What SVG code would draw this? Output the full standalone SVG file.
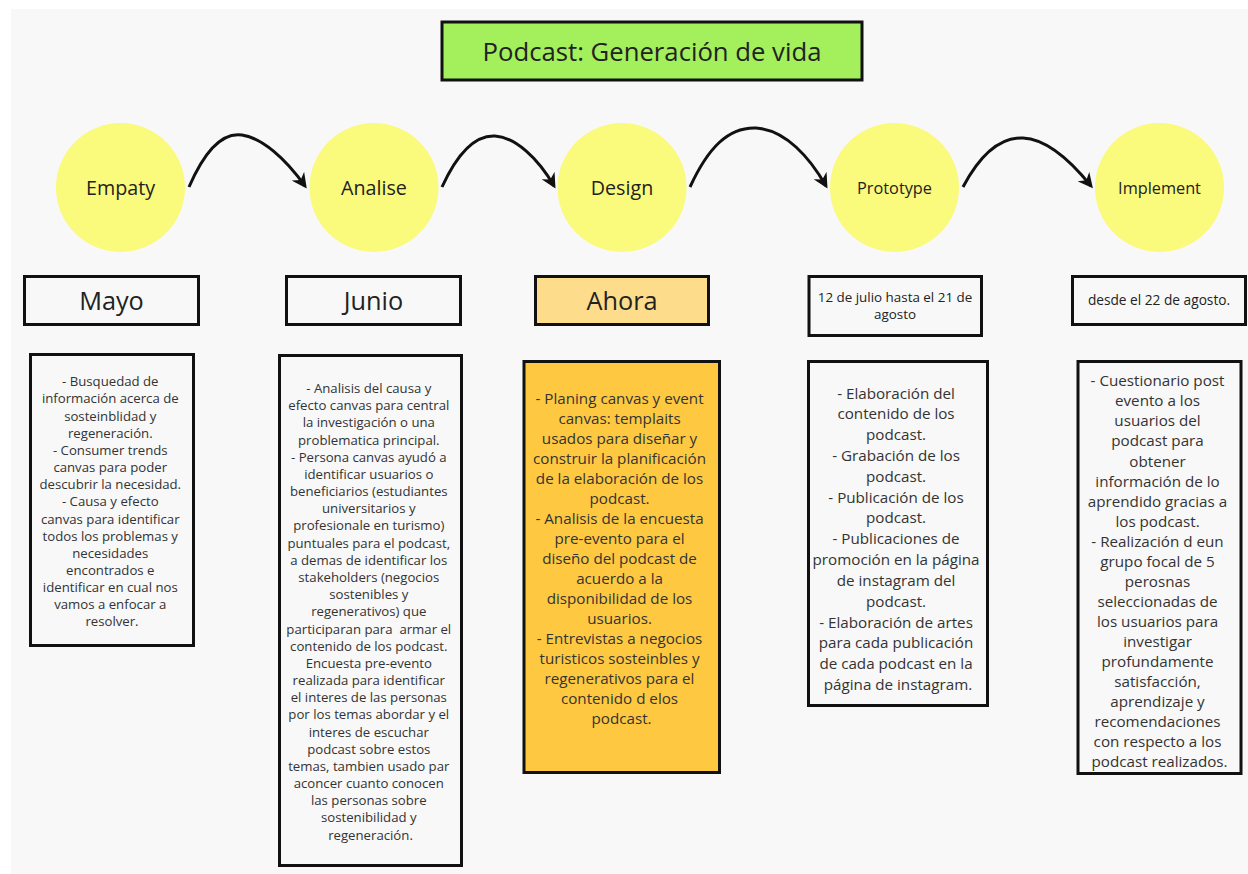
<svg xmlns="http://www.w3.org/2000/svg" width="1248" height="874" viewBox="0 0 1248 874">
<style>
.t{font-family:"Open Sans",Lato,"Liberation Sans",sans-serif;fill:#222;text-anchor:middle}
.box{stroke:#111;stroke-width:3}
.wb{fill:#f8f8f8}
.circ{fill:#fafa7c}
.conn{fill:none;stroke:#111;stroke-width:3}
.b1{font-size:13.2px;fill:#333}
.b2{font-size:15.2px;fill:#333}
.hd{font-size:25.3px}
</style>
<defs>
<marker id="ah" viewBox="0 0 10 10" refX="8" refY="5" markerWidth="5" markerHeight="5" orient="auto" markerUnits="strokeWidth">
<path d="M0,0 L10,5 L0,10 L3,5 z" fill="#111"/>
</marker>
</defs>
<rect x="0" y="0" width="1248" height="874" fill="#ffffff"/>
<rect x="11" y="9" width="1237" height="865" fill="#f8f8f8"/>

<g id="title">
<rect class="box" x="442" y="22" width="420" height="58" fill="#a3ef5c"/>
<text class="t" x="652" y="61" font-size="25.7">Podcast: Generación de vida</text>
</g>

<g id="connectors">
<path class="conn" d="M189,187 C205,150 222,132 242,135 C262,138 285,158 305,186" marker-end="url(#ah)"/>
<path class="conn" d="M442,187 C458,152 475,135 495,136 C515,137 538,158 554,186" marker-end="url(#ah)"/>
<path class="conn" d="M690,187 C708,148 728,127 756,128 C786,130 810,158 826,186" marker-end="url(#ah)"/>
<path class="conn" d="M963,187 C980,155 1000,137 1023,138 C1047,139 1070,160 1091,186" marker-end="url(#ah)"/>
</g>

<g id="empaty">
<circle class="circ" cx="120.5" cy="187.5" r="64.5"/>
<text class="t" x="120.5" y="194.5" font-size="19.7">Empaty</text>
</g>
<g id="analise">
<circle class="circ" cx="374" cy="187.5" r="64.5"/>
<text class="t" x="374" y="194.5" font-size="19.7">Analise</text>
</g>
<g id="design">
<circle class="circ" cx="622" cy="187.5" r="64.5"/>
<text class="t" x="622" y="194.5" font-size="19.7">Design</text>
</g>
<g id="prototype">
<circle class="circ" cx="894.5" cy="187.5" r="64.5"/>
<text class="t" x="894.5" y="193.5" font-size="16.3">Prototype</text>
</g>
<g id="implement">
<circle class="circ" cx="1159.5" cy="187.5" r="64.5"/>
<text class="t" x="1159.5" y="193.5" font-size="16.3">Implement</text>
</g>

<g id="mayo">
<rect class="box wb" x="24.5" y="276.5" width="174" height="48"/>
<text class="t hd" x="111.5" y="310">Mayo</text>
</g>
<g id="junio">
<rect class="box wb" x="286.5" y="276.5" width="174" height="48"/>
<text class="t hd" x="373.5" y="310">Junio</text>
</g>
<g id="ahora">
<rect class="box" x="535.5" y="276.5" width="173" height="48" fill="#fddd8b"/>
<text class="t hd" x="622" y="310">Ahora</text>
</g>
<g id="fecha-prototype">
<rect class="box wb" x="809" y="276.5" width="172.5" height="59"/>
<text class="t" x="895" y="302" font-size="13.4" fill="#333"><tspan x="895">12 de julio hasta el 21 de</tspan><tspan x="895" dy="17">agosto</tspan></text>
</g>
<g id="fecha-implement">
<rect class="box wb" x="1072.5" y="276.5" width="173" height="48"/>
<text class="t" x="1159" y="305" font-size="13.7" fill="#333">desde el 22 de agosto.</text>
</g>

<g id="mayo-detalle">
<rect class="box wb" x="30.5" y="354.5" width="163" height="291"/>
<text class="t b1" y="386.3">
<tspan x="112" dy="0">- Busquedad de</tspan>
<tspan x="112" dy="17.15">información acerca de</tspan>
<tspan x="112" dy="17.15">sosteinblidad y</tspan>
<tspan x="112" dy="17.15">regeneración.</tspan>
<tspan x="112" dy="17.15">- Consumer trends</tspan>
<tspan x="112" dy="17.15">canvas para poder</tspan>
<tspan x="112" dy="17.15">descubrir la necesidad.</tspan>
<tspan x="112" dy="17.15">- Causa y efecto</tspan>
<tspan x="112" dy="17.15">canvas para identificar</tspan>
<tspan x="112" dy="17.15">todos los problemas y</tspan>
<tspan x="112" dy="17.15">necesidades</tspan>
<tspan x="112" dy="17.15">encontrados e</tspan>
<tspan x="112" dy="17.15">identificar en cual nos</tspan>
<tspan x="112" dy="17.15">vamos a enfocar a</tspan>
<tspan x="112" dy="17.15">resolver.</tspan>
</text>
</g>

<g id="junio-detalle">
<rect class="box wb" x="279.5" y="355.5" width="182" height="510"/>
<text class="t b1" y="393">
<tspan x="370.5" dy="0">- Analisis del causa y</tspan>
<tspan x="370.5" dy="17.18">efecto canvas para central</tspan>
<tspan x="370.5" dy="17.18">la investigación o una</tspan>
<tspan x="370.5" dy="17.18">problematica principal.</tspan>
<tspan x="370.5" dy="17.18">- Persona canvas ayudó a</tspan>
<tspan x="370.5" dy="17.18">identificar usuarios o</tspan>
<tspan x="370.5" dy="17.18">beneficiarios (estudiantes</tspan>
<tspan x="370.5" dy="17.18">universitarios y</tspan>
<tspan x="370.5" dy="17.18">profesionale en turismo)</tspan>
<tspan x="370.5" dy="17.18">puntuales para el podcast,</tspan>
<tspan x="370.5" dy="17.18">a demas de identificar los</tspan>
<tspan x="370.5" dy="17.18">stakeholders (negocios</tspan>
<tspan x="370.5" dy="17.18">sostenibles y</tspan>
<tspan x="370.5" dy="17.18">regenerativos) que</tspan>
<tspan x="370.5" dy="17.18" xml:space="preserve">participaran para  armar el</tspan>
<tspan x="370.5" dy="17.18">contenido de los podcast.</tspan>
<tspan x="370.5" dy="17.18">Encuesta pre-evento</tspan>
<tspan x="370.5" dy="17.18">realizada para identificar</tspan>
<tspan x="370.5" dy="17.18">el interes de las personas</tspan>
<tspan x="370.5" dy="17.18">por los temas abordar y el</tspan>
<tspan x="370.5" dy="17.18">interes de escuchar</tspan>
<tspan x="370.5" dy="17.18">podcast sobre estos</tspan>
<tspan x="370.5" dy="17.18">temas, tambien usado par</tspan>
<tspan x="370.5" dy="17.18">aconcer cuanto conocen</tspan>
<tspan x="370.5" dy="17.18">las personas sobre</tspan>
<tspan x="370.5" dy="17.18">sostenibilidad y</tspan>
<tspan x="370.5" dy="17.18">regeneración.</tspan>
</text>
</g>

<g id="ahora-detalle">
<rect class="box" x="524" y="361.5" width="195.5" height="411" fill="#fec941"/>
<text class="t b2" y="403.5">
<tspan x="621.5" dy="0">- Planing canvas y event</tspan>
<tspan x="621.5" dy="20">canvas: templaits</tspan>
<tspan x="621.5" dy="20">usados para diseñar y</tspan>
<tspan x="621.5" dy="20">construir la planificación</tspan>
<tspan x="621.5" dy="20">de la elaboración de los</tspan>
<tspan x="621.5" dy="20">podcast.</tspan>
<tspan x="621.5" dy="20">- Analisis de la encuesta</tspan>
<tspan x="621.5" dy="20">pre-evento para el</tspan>
<tspan x="621.5" dy="20">diseño del podcast de</tspan>
<tspan x="621.5" dy="20">acuerdo a la</tspan>
<tspan x="621.5" dy="20">disponibilidad de los</tspan>
<tspan x="621.5" dy="20">usuarios.</tspan>
<tspan x="621.5" dy="20">- Entrevistas a negocios</tspan>
<tspan x="621.5" dy="20">turisticos sosteinbles y</tspan>
<tspan x="621.5" dy="20">regenerativos para el</tspan>
<tspan x="621.5" dy="20">contenido d elos</tspan>
<tspan x="621.5" dy="20">podcast.</tspan>
</text>
</g>

<g id="prototype-detalle">
<rect class="box wb" x="808.5" y="361.5" width="179" height="344"/>
<text class="t b2" y="398.5">
<tspan x="898" dy="0">- Elaboración del</tspan>
<tspan x="898" dy="20.83">contenido de los</tspan>
<tspan x="898" dy="20.83">podcast.</tspan>
<tspan x="898" dy="20.83">- Grabación de los</tspan>
<tspan x="898" dy="20.83">podcast.</tspan>
<tspan x="898" dy="20.83">- Publicación de los</tspan>
<tspan x="898" dy="20.83">podcast.</tspan>
<tspan x="898" dy="20.83">- Publicaciones de</tspan>
<tspan x="898" dy="20.83">promoción en la página</tspan>
<tspan x="898" dy="20.83">de instagram del</tspan>
<tspan x="898" dy="20.83">podcast.</tspan>
<tspan x="898" dy="20.83">- Elaboración de artes</tspan>
<tspan x="898" dy="20.83">para cada publicación</tspan>
<tspan x="898" dy="20.83">de cada podcast en la</tspan>
<tspan x="898" dy="20.83">página de instagram.</tspan>
</text>
</g>

<g id="implement-detalle">
<rect class="box wb" x="1078" y="361.5" width="163" height="412"/>
<text class="t b2" y="386.3">
<tspan x="1159.5" dy="0">- Cuestionario post</tspan>
<tspan x="1159.5" dy="20.05">evento a los</tspan>
<tspan x="1159.5" dy="20.05">usuarios del</tspan>
<tspan x="1159.5" dy="20.05">podcast para</tspan>
<tspan x="1159.5" dy="20.05">obtener</tspan>
<tspan x="1159.5" dy="20.05">información de lo</tspan>
<tspan x="1159.5" dy="20.05">aprendido gracias a</tspan>
<tspan x="1159.5" dy="20.05">los podcast.</tspan>
<tspan x="1159.5" dy="20.05">- Realización d eun</tspan>
<tspan x="1159.5" dy="20.05">grupo focal de 5</tspan>
<tspan x="1159.5" dy="20.05">perosnas</tspan>
<tspan x="1159.5" dy="20.05">seleccionadas de</tspan>
<tspan x="1159.5" dy="20.05">los usuarios para</tspan>
<tspan x="1159.5" dy="20.05">investigar</tspan>
<tspan x="1159.5" dy="20.05">profundamente</tspan>
<tspan x="1159.5" dy="20.05">satisfacción,</tspan>
<tspan x="1159.5" dy="20.05">aprendizaje y</tspan>
<tspan x="1159.5" dy="20.05">recomendaciones</tspan>
<tspan x="1159.5" dy="20.05">con respecto a los</tspan>
<tspan x="1159.5" dy="20.05">podcast realizados.</tspan>
</text>
</g>
</svg>
